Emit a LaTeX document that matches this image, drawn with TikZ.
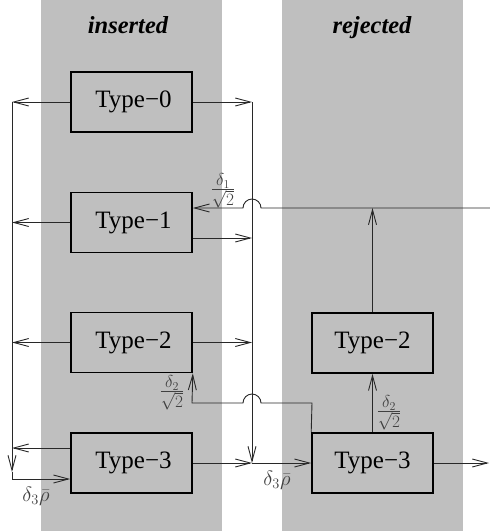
\documentclass[tikz,border=0pt]{standalone}
\usepackage{fontspec}
\setmainfont{Liberation Serif}
\usetikzlibrary{arrows.meta}
\definecolor{panel}{RGB}{191,191,191}
\definecolor{ink}{RGB}{40,40,40}
\tikzset{
  typebox/.style={draw=black,line width=1.6pt,fill=panel,minimum width=121pt,minimum height=60pt,inner sep=0pt,font=\fontsize{25}{28}\selectfont},
  conn/.style={draw=ink,line width=0.9pt,-{Straight Barb[length=15pt,width=8pt,line width=0.9pt]}},
  title/.style={font=\fontsize{24.5}{28}\selectfont\bfseries\itshape,anchor=base,inner sep=0pt},
  flab/.style={font=\fontsize{23}{26}\selectfont,text=black!75,inner sep=0pt},
  rlab/.style={font=\fontsize{21}{24}\selectfont,text=black!75,inner sep=0pt},
}
\begin{document}
\begin{tikzpicture}[x=1pt,y=-1pt]
\useasboundingbox (0,0) rectangle (490,531);
\fill[panel] (41,0) rectangle (222,531);
\fill[panel] (282,0) rectangle (463,531);
\node[title] (ins) at (128,33) {inserted};
\node[title] (rej) at (372,33) {rejected};
% boxes
\node[typebox] (t0) at (131.5,102) {\hspace*{4pt}Type−0};
\node[typebox] (t1) at (131.5,222.5) {\hspace*{4pt}Type−1};
\node[typebox] (t2) at (131.5,342.5) {\hspace*{4pt}Type−2};
\node[typebox] (t3) at (131.5,463) {\hspace*{4pt}Type−3};
\node[typebox] (r2) at (372.5,343) {Type−2};
\node[typebox] (r3) at (372.5,463) {Type−3};
% bus coordinates
\coordinate (L) at (12,0);
\coordinate (R) at (252,0);
\coordinate (Ltop) at (12,102);
\coordinate (Lbot) at (12,472);
\coordinate (Lcorner) at (12,479);
\coordinate (Rtop) at (252,102);
\coordinate (Rbot) at (252,463);
\coordinate (E1) at (490,208);
\coordinate (E3) at (489,463);
% left bus
\draw[conn] (t0.west) -- (t0.west -| L);
\draw[conn] (t1.west) -- (t1.west -| L);
\draw[conn] (t2.west) -- (t2.west -| L);
\draw[conn] ([yshift=15pt]t3.west) -- ([yshift=15pt]t3.west -| L);
\draw[conn] (Ltop) -- (Lbot);
\draw[conn] (Lbot) -- (Lcorner) -- ([yshift=-16pt]t3.west);
% right bus
\draw[conn] (t0.east) -- (t0.east -| R);
\draw[conn] ([yshift=-15.5pt]t1.east) -- ([yshift=-15.5pt]t1.east -| R);
\draw[conn] (t2.east) -- (t2.east -| R);
\draw[conn] (Rtop) -- (Rbot);
\draw[conn] (t3.east) -- (Rbot);
\draw[conn] (Rbot) -- (r3.west);
% feedback from right edge with hop
\draw[conn] (E1) -- (261,208) arc[start angle=0,end angle=180,radius=9pt] -- ([yshift=14.5pt]t1.east);
% rejected column
\draw[conn] (r2.north) -- (r2.north |- E1);
\draw[conn] (r3.north) -- (r2.south);
\draw[conn] (r3.east) -- (E3);
% delta2 line with hop
\draw[conn] (r3.north west) -- (312,403) -- (261,403) arc[start angle=0,end angle=180,radius=9pt] -- (192,403) -- (t2.south east);
% labels
\node[flab] (d1) at (223,191) {$\frac{\delta_1}{\sqrt{2}}$};
\node[flab] (d2l) at (172,393) {$\frac{\delta_2}{\sqrt{2}}$};
\node[flab] (d2r) at (389,413) {$\frac{\delta_2}{\sqrt{2}}$};
\node[rlab] (d3l) at (36,496) {$\delta_3\bar{\rho}$};
\node[rlab] (d3r) at (277,480) {$\delta_3\bar{\rho}$};
\end{tikzpicture}
\end{document}
